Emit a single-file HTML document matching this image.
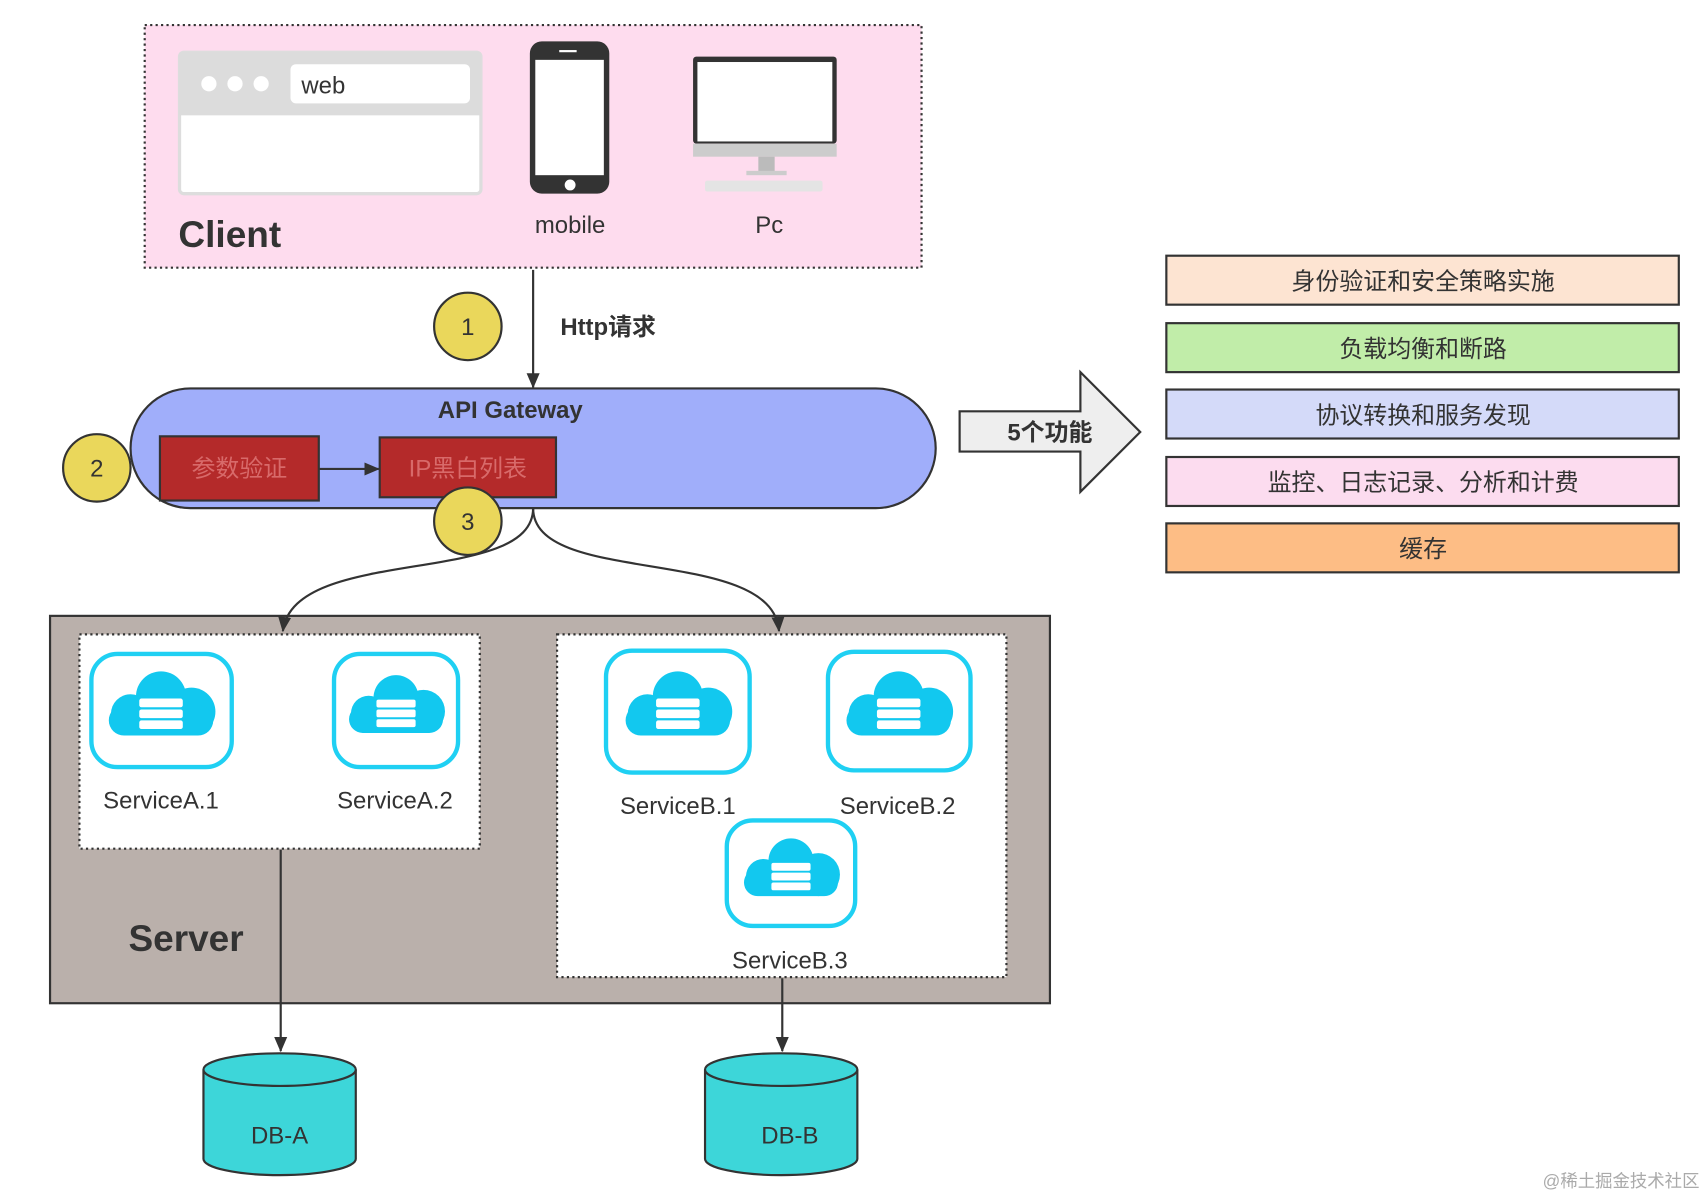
<!DOCTYPE html>
<html><head><meta charset="utf-8"><style>
html,body{margin:0;padding:0;background:#fff;}
svg{display:block;}
text{font-family:"Liberation Sans","Noto Sans CJK SC",sans-serif;fill:#333;}
</style></head><body>
<svg width="1706" height="1198" viewBox="0 0 1568 1101" preserveAspectRatio="none" xmlns="http://www.w3.org/2000/svg">
<defs>
<marker id="ah" markerWidth="14" markerHeight="14" refX="13" refY="7" orient="auto" markerUnits="userSpaceOnUse" viewBox="0 0 14 14"><path d="M0,1 L14,7 L0,13 Z" fill="#333"/></marker>
<g id="cloud">
<circle cx="0" cy="-12" r="23" fill="#12c8ef"/>
<circle cx="-28" cy="4" r="18" fill="#12c8ef"/>
<circle cx="28" cy="2" r="22" fill="#12c8ef"/>
<rect x="-48" y="-4" width="96" height="28" rx="14" fill="#12c8ef"/>
<rect x="-20" y="-10" width="40" height="8" rx="2" fill="#fff"/>
<rect x="-20" y="0" width="40" height="8" rx="2" fill="#fff"/>
<rect x="-20" y="10" width="40" height="8" rx="2" fill="#fff"/>
</g>
</defs>

<!-- Client -->
<rect x="133" y="23" width="714" height="223" fill="#fedcee" stroke="#333" stroke-width="2" stroke-dasharray="2,3"/>
<rect x="165" y="48" width="277" height="130" rx="4" fill="#fff" stroke="#ddd" stroke-width="3"/>
<rect x="165" y="48" width="277" height="58" fill="#dcdcdc"/>
<rect x="267" y="59" width="165" height="36" rx="5" fill="#fff"/>
<circle cx="192" cy="77" r="7" fill="#fff"/><circle cx="216" cy="77" r="7" fill="#fff"/><circle cx="240" cy="77" r="7" fill="#fff"/>
<text x="277" y="86" font-size="22">web</text>
<rect x="487" y="38" width="73" height="140" rx="11" fill="#333"/>
<rect x="492" y="55" width="63" height="106" fill="#fff"/>
<circle cx="524" cy="170" r="5" fill="#fff"/>
<rect x="514" y="46" width="16" height="2" fill="#fff"/>
<rect x="637" y="52" width="132" height="80" rx="3" fill="#333"/>
<rect x="641" y="57" width="124" height="73" fill="#fff"/>
<rect x="637" y="132" width="132" height="12" fill="#ccc"/>
<rect x="697" y="144" width="15" height="14" fill="#bbb"/>
<rect x="686" y="157" width="37" height="4" fill="#ccc"/>
<rect x="648" y="166" width="108" height="10" rx="2" fill="#e4e4e4"/>
<text x="164" y="227" font-size="34" font-weight="bold">Client</text>
<text x="524" y="214" font-size="22" text-anchor="middle">mobile</text>
<text x="707" y="214" font-size="22" text-anchor="middle">Pc</text>

<!-- Http arrow -->
<line x1="490" y1="248" x2="490" y2="356" stroke="#333" stroke-width="2" marker-end="url(#ah)"/>
<circle cx="430" cy="300" r="31" fill="#ead75b" stroke="#333" stroke-width="2"/>
<text x="430" y="308" font-size="22" text-anchor="middle">1</text>
<text x="515" y="308" font-size="22" font-weight="bold">Http请求</text>

<!-- Gateway -->
<rect x="120" y="357" width="740" height="110" rx="55" fill="#a0aefa" stroke="#333" stroke-width="2"/>
<text x="469" y="384" font-size="22" text-anchor="middle" font-weight="bold">API Gateway</text>
<rect x="147" y="401" width="146" height="59" fill="#b42a2a" stroke="#333" stroke-width="2"/>
<text x="220" y="438" font-size="22" text-anchor="middle" style="fill:#d86a6a">参数验证</text>
<rect x="349" y="402" width="162" height="55" fill="#b42a2a" stroke="#333" stroke-width="2"/>
<text x="430" y="438" font-size="22" text-anchor="middle" style="fill:#d86a6a">IP黑白列表</text>
<line x1="293" y1="431" x2="348" y2="431" stroke="#333" stroke-width="2" marker-end="url(#ah)"/>
<circle cx="89" cy="430" r="31" fill="#ead75b" stroke="#333" stroke-width="2"/>
<text x="89" y="438" font-size="22" text-anchor="middle">2</text>

<!-- big arrow -->
<polygon points="882,378 993,378 993,342 1048,397 993,452 993,415 882,415" fill="#eeeeee" stroke="#333" stroke-width="2"/>
<text x="965" y="405" font-size="22" text-anchor="middle" font-weight="bold">5个功能</text>

<!-- right boxes -->
<rect x="1072" y="235" width="471" height="45" fill="#fde4d2" stroke="#333" stroke-width="2"/>
<text x="1308" y="266" font-size="22" text-anchor="middle">身份验证和安全策略实施</text>
<rect x="1072" y="297" width="471" height="45" fill="#c1eda9" stroke="#333" stroke-width="2"/>
<text x="1308" y="328" font-size="22" text-anchor="middle">负载均衡和断路</text>
<rect x="1072" y="358" width="471" height="45" fill="#d4daf9" stroke="#333" stroke-width="2"/>
<text x="1308" y="389" font-size="22" text-anchor="middle">协议转换和服务发现</text>
<rect x="1072" y="420" width="471" height="45" fill="#fcdcef" stroke="#333" stroke-width="2"/>
<text x="1308" y="451" font-size="22" text-anchor="middle">监控、日志记录、分析和计费</text>
<rect x="1072" y="481" width="471" height="45" fill="#fdbd85" stroke="#333" stroke-width="2"/>
<text x="1308" y="512" font-size="22" text-anchor="middle">缓存</text>

<!-- Server -->
<rect x="46" y="566" width="919" height="356" fill="#bab0ab" stroke="#333" stroke-width="2"/>
<text x="171" y="874" font-size="34" font-weight="bold" text-anchor="middle">Server</text>
<rect x="73" y="583" width="368" height="197" fill="#fff" stroke="#333" stroke-width="2" stroke-dasharray="2,3"/>
<rect x="512" y="583" width="413" height="315" fill="#fff" stroke="#333" stroke-width="2" stroke-dasharray="2,3"/>

<!-- curves -->
<path d="M490,467 C490,540 270,500 260,580" fill="none" stroke="#333" stroke-width="2" marker-end="url(#ah)"/>
<path d="M490,467 C490,540 710,500 716,580" fill="none" stroke="#333" stroke-width="2" marker-end="url(#ah)"/>
<circle cx="430" cy="479" r="31" fill="#ead75b" stroke="#333" stroke-width="2"/>
<text x="430" y="487" font-size="22" text-anchor="middle">3</text>

<rect x="84" y="601" width="129" height="104" rx="24" fill="#fff" stroke="#1fd0f3" stroke-width="4"/>
<use href="#cloud" transform="translate(148,652)"/>
<rect x="307" y="601" width="114" height="104" rx="24" fill="#fff" stroke="#1fd0f3" stroke-width="4"/>
<use href="#cloud" transform="translate(364,652) scale(0.9)"/>
<rect x="557" y="598" width="132" height="112" rx="24" fill="#fff" stroke="#1fd0f3" stroke-width="4"/>
<use href="#cloud" transform="translate(623,652)"/>
<rect x="761" y="599" width="131" height="109" rx="24" fill="#fff" stroke="#1fd0f3" stroke-width="4"/>
<use href="#cloud" transform="translate(826,652)"/>
<rect x="668" y="754" width="118" height="97" rx="24" fill="#fff" stroke="#1fd0f3" stroke-width="4"/>
<use href="#cloud" transform="translate(727,802) scale(0.9)"/>

<text x="148" y="743" font-size="22" text-anchor="middle">ServiceA.1</text>
<text x="363" y="743" font-size="22" text-anchor="middle">ServiceA.2</text>
<text x="623" y="748" font-size="22" text-anchor="middle">ServiceB.1</text>
<text x="825" y="748" font-size="22" text-anchor="middle">ServiceB.2</text>
<text x="726" y="890" font-size="22" text-anchor="middle">ServiceB.3</text>

<line x1="258" y1="781" x2="258" y2="966" stroke="#333" stroke-width="2" marker-end="url(#ah)"/>
<line x1="719" y1="899" x2="719" y2="966" stroke="#333" stroke-width="2" marker-end="url(#ah)"/>

<!-- DBs -->
<path d="M187,983 L187,1065 A70,15 0 0 0 327,1065 L327,983" fill="#3dd6d9" stroke="#333" stroke-width="2"/>
<ellipse cx="257" cy="983" rx="70" ry="15" fill="#3dd6d9" stroke="#333" stroke-width="2"/>
<text x="257" y="1051" font-size="22" text-anchor="middle">DB-A</text>
<path d="M648,983 L648,1065 A70,15 0 0 0 788,1065 L788,983" fill="#3dd6d9" stroke="#333" stroke-width="2"/>
<ellipse cx="718" cy="983" rx="70" ry="15" fill="#3dd6d9" stroke="#333" stroke-width="2"/>
<text x="726" y="1051" font-size="22" text-anchor="middle">DB-B</text>

<text x="1562" y="1091" font-size="16" text-anchor="end" style="fill:#aaa">@稀土掘金技术社区</text>
</svg>
</body></html>
